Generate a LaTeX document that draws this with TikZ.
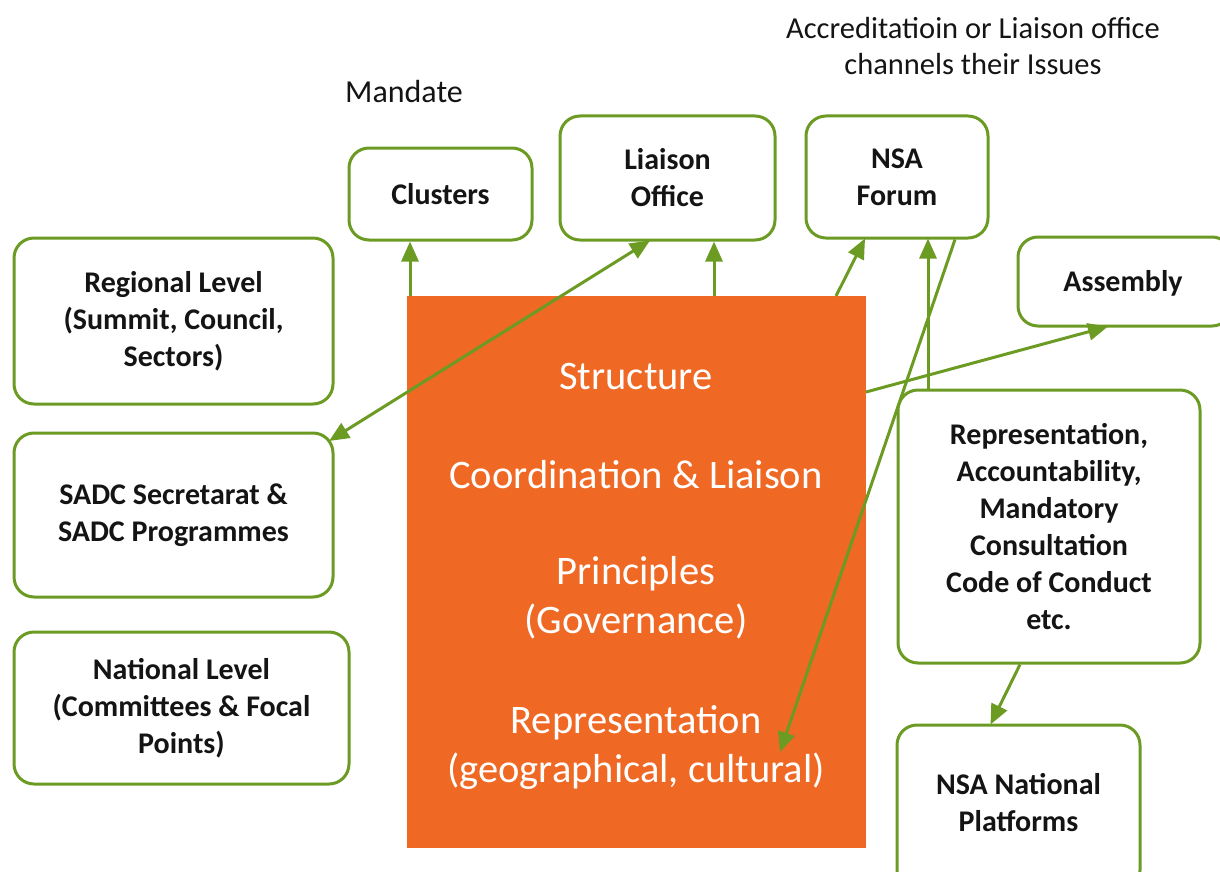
\documentclass[tikz,border=0pt]{standalone}
\usepackage{fontspec}
\setmainfont{Carlito}
\usetikzlibrary{arrows.meta,calc}
\definecolor{grn}{RGB}{108,155,36}
\definecolor{org}{RGB}{239,104,36}
\definecolor{txt}{RGB}{20,20,20}
\tikzset{
  boxfont/.style={text=txt,font=\fontsize{30}{37}\selectfont\bfseries,align=center},
  gbox/.style={draw=grn,line width=3pt,rounded corners=20pt,fill=white,boxfont,inner sep=0pt},
  arr/.style={draw=grn,line width=3pt,-{Triangle[length=20pt,width=17pt]}},
  darr/.style={draw=grn,line width=3pt,{Triangle[length=20pt,width=17pt]}-{Triangle[length=20pt,width=17pt]}},
  otext/.style={text=white,font=\fontsize{40.5}{49}\selectfont,align=center},
  note/.style={text=txt,font=\fontsize{30.5}{36}\selectfont,align=center}
}
\begin{document}
\begin{tikzpicture}[x=1pt,y=-1pt]
\useasboundingbox (0,0) rectangle (1220,872);
\node[fill=org,minimum width=459pt,minimum height=552pt,inner sep=0pt] (orange) at (636.5,572) {};
\node[otext] (t1) at (636,377) {Structure};
\node[otext] (t2) at (636,475) {Coordination \& Liaison};
\node[otext] (t3) at (636,598) {Principles\\(Governance)};
\node[otext] (t4) at (636,747) {Representation\\(geographical, cultural)};

\node[gbox,minimum width=183pt,minimum height=92pt] (clusters) at (440.5,194) {Clusters};
\node[gbox,minimum width=215pt,minimum height=124pt] (liaison) at (667.5,178) {Liaison\\Office};
\node[gbox,minimum width=182pt,minimum height=122pt] (forum) at (897,177) {NSA\\Forum};
\node[gbox,minimum width=214pt,minimum height=89pt] (assembly) at (1125,281.5) {};
\node[boxfont] (assemblyt) at (1123,283) {Assembly};
\node[gbox,minimum width=319pt,minimum height=166pt] (regional) at (173.5,321) {Regional Level\\(Summit, Council,\\Sectors)};
\node[gbox,minimum width=319pt,minimum height=164pt] (sadc) at (173.5,515) {SADC Secretarat \&\\SADC Programmes};
\node[gbox,minimum width=335pt,minimum height=152pt] (national) at (181.5,708) {National Level\\(Committees \& Focal\\Points)};
\node[gbox,minimum width=302pt,minimum height=273pt] (rep) at (1049,526.5) {Representation,\\Accountability,\\Mandatory\\Consultation\\Code of Conduct\\etc.};
\node[gbox,minimum width=243pt,minimum height=165pt] (natpl) at (1018.5,807.5) {};
\node[boxfont] (natplt) at (1018.5,803) {NSA National\\Platforms};

\node[note,font=\fontsize{32}{36}\selectfont] (mandate) at (404,92) {Mandate};
\node[note] (accr) at (973,46) {Accreditatioin or Liaison office\\channels their Issues};

\coordinate (o1) at (410,296);
\coordinate (o3) at (714,296);
\coordinate (o4) at (836,296);
\coordinate (o7) at (866,392);
\coordinate (sadcTip) at (329,441);
\coordinate (repTip) at (780,752);

\draw[arr] (o1) -- (o1 |- clusters.south);
\draw[darr] (sadcTip) -- ([xshift=-17.5pt,yshift=1pt]liaison.south);
\draw[arr] (o3) -- (o3 |- liaison.south);
\draw[arr] (o4) -- ([xshift=-32pt,yshift=1pt]forum.south);
\draw[arr] ([xshift=-121pt]rep.north) -- ([xshift=31pt,yshift=1pt]forum.south);
\draw[arr] ([xshift=58pt]forum.south) -- (repTip);
\draw[arr] (o7) -- ([xshift=-17pt,yshift=1pt]assembly.south);
\draw[arr] ([xshift=-29pt]rep.south) -- ([xshift=-28pt,yshift=-1pt]natpl.north);
\end{tikzpicture}
\end{document}
